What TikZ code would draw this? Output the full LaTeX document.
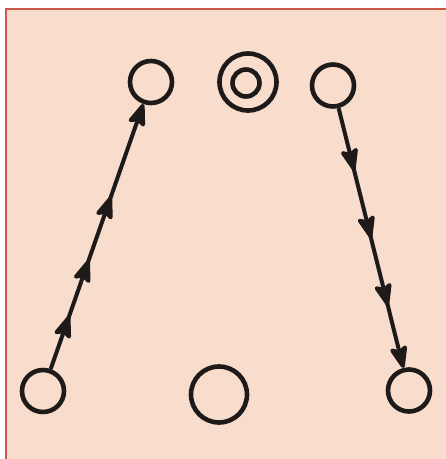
\documentclass[tikz,border=0pt]{standalone}
\usetikzlibrary{arrows.meta,decorations.markings}
\definecolor{paper}{HTML}{F8DDCD}
\definecolor{frame}{HTML}{C9574A}
\definecolor{ink}{HTML}{1E1A1A}
\tikzset{
  x=1pt,y=-1pt,
  ring/.style={circle,draw=ink,line width=4.6pt,inner sep=0pt,minimum size=#1},
  flowtip/.tip={Stealth[length=27pt,width=20pt,inset=5pt,round]},
  flow/.style={draw=ink,line width=4pt,-flowtip,postaction={decorate}},
}
\begin{document}
\begin{tikzpicture}
\useasboundingbox (0,0) rectangle (446,459);
\clip (0,0) rectangle (446,459);
\fill[white] (0,0) rectangle (446,459);
\fill[paper] (6,9) rectangle (450,465);
\draw[frame,line width=1.4pt] (6,465) -- (6,9) -- (450,9);
% circles
\node[ring=42pt] (tl) at (151,82) {};
\node[ring=57pt] (tmo) at (248,82) {};
\node[ring=27pt] (tmi) at (246,83) {};
\node[ring=42pt] (tr) at (333,85.5) {};
\node[ring=42pt] (bl) at (43,391) {};
\node[ring=56pt] (bm) at (219,394.5) {};
\node[ring=42pt] (br) at (409,390.5) {};
% connectors
\draw[flow,
  decoration={markings,
    mark=at position 0.20 with {\arrow{flowtip}},
    mark=at position 0.41 with {\arrow{flowtip}},
    mark=at position 0.65 with {\arrow{flowtip}}}]
  (bl) -- (tl);
\draw[flow,
  decoration={markings,
    mark=at position 0.24 with {\arrow{flowtip}},
    mark=at position 0.50 with {\arrow{flowtip}},
    mark=at position 0.76 with {\arrow{flowtip}}}]
  (tr) -- (br);
\end{tikzpicture}
\end{document}
